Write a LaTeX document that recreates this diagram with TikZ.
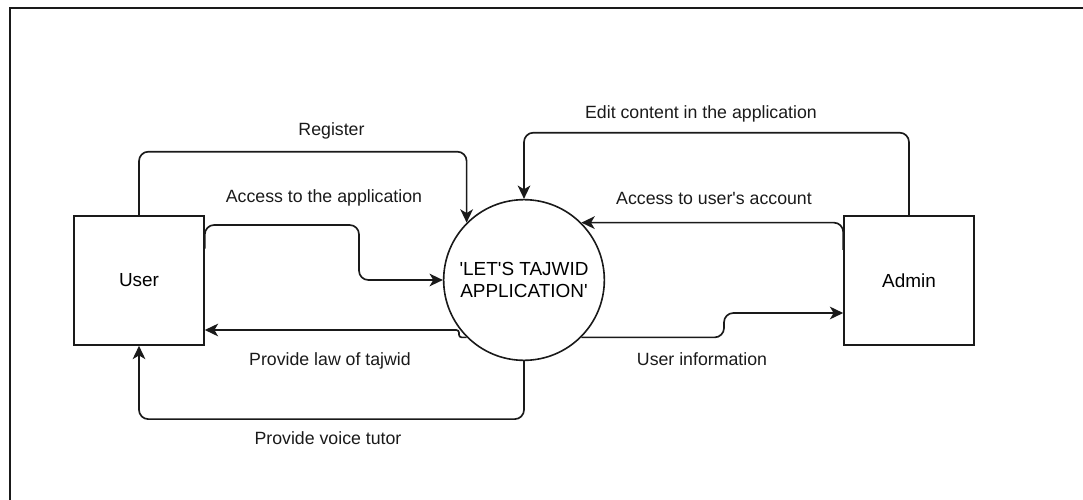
\documentclass[tikz,border=0pt]{standalone}
\usepackage{fontspec}
\setmainfont{Liberation Sans}
\usetikzlibrary{arrows.meta,positioning}
\definecolor{ink}{HTML}{1A1A1A}
\tikzset{
  entity/.style={draw=ink,line width=1.2pt,fill=white,minimum width=97.5pt,minimum height=96.75pt,font=\fontsize{14.2}{17}\selectfont},
  process/.style={draw=ink,line width=1.2pt,circle,fill=white,minimum size=120.5pt,inner sep=0pt,align=center,font=\fontsize{14.2}{16.4}\selectfont},
  flow/.style={-{Stealth[length=10pt,width=9.5pt,inset=2.8pt]},line width=1.25pt,draw=ink,rounded corners=7pt},
  flowlab/.style={font=\fontsize{13.3}{16}\selectfont,text=ink}
}
\newcommand{\sq}{\textquotesingle}

\begin{document}
\begin{tikzpicture}[
    x=0.75pt,y=-0.75pt,
    frame/.style={draw=ink,line width=1.9pt}
  ]
    \useasboundingbox (0,0) rectangle (1083,500);
    \draw[frame] (10,500) -- (10,8) -- (1083,8);

    % external entities and the process
    \node[entity] (user) at (139,280.5) {User};
    \node[entity] (admin) at (909,280.5) {Admin};
    \node[process] (app) at (524,280) {\sq LET\sq S TAJWID\\APPLICATION\sq};

    % user side
    \draw[flow] (user.north) -- ++(0,-63.5) -| (app.135);
    \draw[flow] ([yshift=24pt]user.east) |- (359,225) |- (app.west);
    \draw[flow,rounded corners=2pt] (app.-135) -| (459,330) -- (user.east |- 459,330);
    \draw[flow] (app.south) -- ++(0,58) -| (user.south);

    % admin side
    \draw[flow] (admin.north) -- ++(0,-82.5) -| (app.north);
    \draw[flow] ([yshift=23pt]admin.west) |- (app.45);
    \draw[flow] (app.-45) -| (724,313) -- (admin.west |- 724,313);

    \node[flowlab] (lblreg) at (331.5,131) {Register};
    \node[flowlab] (lblaccess) at (324,198) {Access to the application};
    \node[flowlab] (lbllaw) at (330,361) {Provide law of tajwid};
    \node[flowlab] (lblvoice) at (328,438) {Provide voice tutor};
    \node[flowlab] (lbledit) at (701,114) {Edit content in the application};
    \node[flowlab] (lblacct) at (714,198) {Access to user\sq s account};
    \node[flowlab] (lbluinfo) at (702,359) {User information};
  \end{tikzpicture}
\end{document}
